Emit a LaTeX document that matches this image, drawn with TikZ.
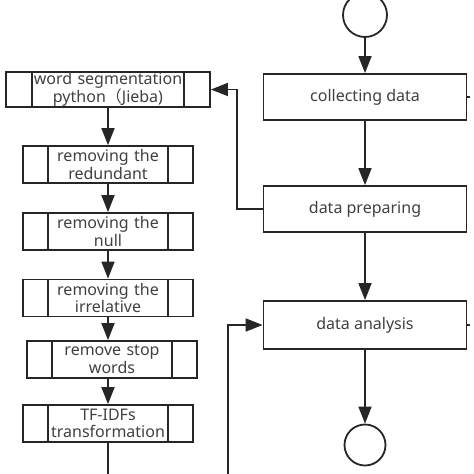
\documentclass[tikz,border=0pt]{standalone}
\usepackage{fontspec}
\setmainfont{Noto Sans}
\newfontfamily\cjk{Noto Sans CJK SC}
\usetikzlibrary{
  arrows.meta,
  positioning
}
\definecolor{ink}{HTML}{262626}
\definecolor{txt}{HTML}{404040}
\tikzset{
  flow/.style={
    draw=ink,
    line width=1.8pt,
    -{Triangle[length=17pt,width=13pt]}
  },
  link/.style={
    draw=ink,
    line width=1.8pt
  },
  stepbox/.style={
    draw=ink,
    line width=1.8pt,
    minimum width=203pt,
    minimum height=46pt,
    text=txt,
    font=\fontsize{16}{18}\selectfont
  },
  subbox/.style={
    draw=ink,
    line width=1.8pt,
    minimum width=170pt,
    minimum height=37pt,
    text width=120pt,
    inner sep=0pt,
    align=center,
    text=txt,
    font=\fontsize{16}{17.5}\selectfont,
    path picture={
      \draw[ink, line width=1.8pt]
        ([xshift=#1]path picture bounding box.north west) -- ([xshift=#1]path picture bounding box.south west)
        ([xshift=-#1]path picture bounding box.north east) -- ([xshift=-#1]path picture bounding box.south east);
    }
  },
  subbox/.default=25pt,
  terminal/.style={
    draw=ink,
    line width=1.8pt,
    circle,
    minimum size=44pt,
    inner sep=0pt
  }
}
\begin{document}
\begin{tikzpicture}[x=1pt,y=-1pt]
  \useasboundingbox (0,0) rectangle (474,474);
  \node[terminal] (start) at (365,15) {};
  \node[stepbox] (collect) at (365,97) {collecting data};
  \node[stepbox] (prep) at (365,209) {data preparing};
  \node[stepbox, minimum height=48pt] (ana) at (365,325) {data analysis};
  \node[terminal, minimum size=41pt] (stop) at (365,445) {};

  \node[subbox=26pt, minimum width=204pt, minimum height=35pt, text width=154pt] (seg) at (108,89.5) {word segmentation\\python{\cjk （}Jieba)};
  \node[subbox] (red) at (108,164.5) {removing the\\redundant};
  \node[subbox] (null) at (108,231.5) {removing the\\null};
  \node[subbox] (irr) at (108,298) {removing the\\irrelative};
  \node[subbox] (sw) at (112,359.5) {remove stop\\words};
  \node[subbox] (tfidf) at (108,423.5) {TF-IDFs\\transformation};

  \coordinate (lowL) at (108,480);
  \coordinate (lowR) at (228,480);

  \draw[flow] (start) -- (collect);
  \draw[flow] (collect) -- (prep);
  \draw[flow] (prep) -- (ana);
  \draw[flow] (ana) -- (stop);
  \draw[flow] (prep.west) -- ++(-26,0) |- (seg.east);
  \foreach \a/\b in {seg/red, red/null, null/irr, irr/sw, sw/tfidf}
    \draw[flow] (seg.south |- \a.south) -- (seg.south |- \b.north);
  \draw[link] (tfidf.south) -- (lowL);
  \draw[flow] (lowR) |- (ana.west);
  \draw[link] (collect.east) -- ++(3,0);
  \draw[link] (ana.east) -- ++(3,0);
\end{tikzpicture}
\end{document}
